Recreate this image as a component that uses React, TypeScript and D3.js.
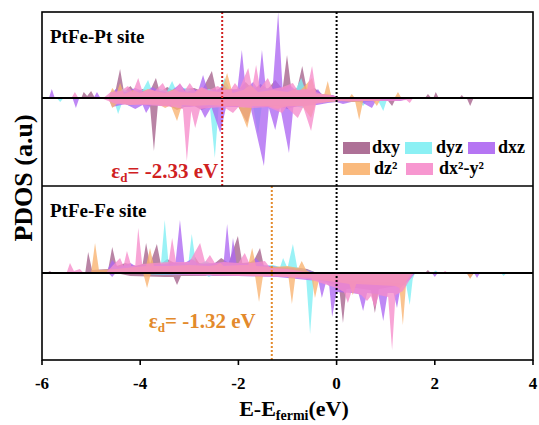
import * as d3 from 'd3'

type Pt = [number, number]

// orbital names & colours
const orbitals = ['dxy', 'dyz', 'dxz', 'dz²', 'dx²-y²']
const orbitalColors = ['#a5628c', '#7eeef3', '#ad66f2', '#f9b26f', '#f68ccb']
const energyTicks = [-6, -4, -2, 0, 2, 4]

const siteLabels = ['PtFe-Pt site', 'PtFe-Fe site']
const dBandCenters = [-2.33, -1.32]
const dBandColors = ['#d0211f', '#e38a2c']

// PtFe - Pt site, spin up
const ptUpDxy: Pt[] = [[-5.9,0],[-5.2,0],[-5.15,0.6],[-5.08,0.2],[-5.0,0.7],[-4.92,0],[-4.65,0],[-4.5,0.8],[-4.41,2.9],[-4.33,0.6],[-4.2,1.2],[-4.1,0.6],[-3.95,0.9],[-3.8,0.7],[-3.68,2.0],[-3.6,0.6],[-3.45,1.1],[-3.3,0.7],[-3.1,0.9],[-2.9,1.0],[-2.75,0.7],[-2.54,2.7],[-2.45,0.7],[-2.3,1.3],[-2.2,0.9],[-2.0,0.8],[-1.85,1.6],[-1.7,0.8],[-1.55,1.4],[-1.4,0.9],[-1.25,1.8],[-1.1,0.9],[-1.01,4.3],[-0.92,0.8],[-0.8,1.0],[-0.7,3.2],[-0.6,0.7],[-0.45,1.0],[-0.3,0.4],[-0.1,0.3],[0.1,0],[1.8,0],[1.86,0.4],[1.93,0],[1.97,0],[2.02,0.6],[2.08,0],[2.5,0],[2.55,0.3],[2.6,0],[4,0]]
const ptUpDyz: Pt[] = [[-5.9,0],[-4.65,0],[-4.57,0.8],[-4.5,0.5],[-4.35,0.9],[-4.2,0.6],[-3.95,0.8],[-3.84,1.8],[-3.75,0.6],[-3.6,0.9],[-3.45,0.7],[-3.35,1.7],[-3.25,0.6],[-3.1,1.0],[-2.95,0.8],[-2.75,0.6],[-2.6,0.9],[-2.4,0.6],[-2.28,2.0],[-2.15,0.6],[-2.0,1.0],[-1.9,0.8],[-1.72,1.4],[-1.6,0.6],[-1.45,1.0],[-1.3,0.8],[-1.1,0.7],[-0.95,1.0],[-0.85,0.7],[-0.72,2.0],[-0.62,0.5],[-0.4,0.5],[-0.2,0.3],[0,0],[4,0]]
const ptUpDxz: Pt[] = [[-5.9,0],[-5.86,0],[-5.8,0.9],[-5.74,0],[-4.95,0],[-4.88,0.6],[-4.81,0],[-4.65,0],[-4.5,0.9],[-4.3,0.6],[-4.1,1.0],[-3.9,0.6],[-3.75,1.1],[-3.6,0.7],[-3.4,0.6],[-3.19,1.4],[-3.05,0.6],[-2.9,0.9],[-2.82,0.7],[-2.72,2.3],[-2.62,0.7],[-2.4,0.9],[-2.3,1.3],[-2.2,0.8],[-2.02,0.9],[-1.93,4.8],[-1.85,0.9],[-1.7,1.6],[-1.6,0.9],[-1.52,4.8],[-1.44,0.9],[-1.3,1.2],[-1.19,8.6],[-1.1,0.9],[-0.95,1.3],[-0.82,0.7],[-0.6,0.9],[-0.45,0.5],[-0.38,0.9],[-0.3,0.3],[-0.1,0.3],[0.1,0],[4,0]]
const ptUpDz2: Pt[] = [[-5.9,0],[-4.65,0],[-4.57,1.0],[-4.48,0.5],[-4.41,1.5],[-4.33,0.4],[-4.15,0.8],[-4.0,0.5],[-3.85,0.9],[-3.7,0.7],[-3.5,0.5],[-3.3,0.9],[-3.2,0.6],[-2.9,0.5],[-2.75,1.0],[-2.6,0.7],[-2.35,0.6],[-2.23,2.5],[-2.12,0.5],[-1.9,0.8],[-1.75,1.3],[-1.6,0.6],[-1.3,0.8],[-1.0,0.6],[-0.85,0.9],[-0.75,0.7],[-0.5,2.0],[-0.42,0.4],[-0.25,0.4],[-0.18,1.7],[-0.1,0],[0.25,0],[0.31,0.4],[0.37,0],[1.18,0],[1.25,0.6],[1.32,0],[4,0]]
const ptUpDx2: Pt[] = [[-5.9,0],[-5.4,0],[-5.33,0.6],[-5.26,0],[-4.75,0],[-4.6,0.6],[-4.4,0.7],[-4.25,1.2],[-4.15,0.6],[-4.04,2.0],[-3.95,0.6],[-3.8,0.9],[-3.7,0.7],[-3.54,1.5],[-3.44,0.6],[-3.3,0.8],[-3.19,1.5],[-3.1,0.7],[-2.99,1.5],[-2.88,0.7],[-2.75,1.1],[-2.6,0.8],[-2.42,1.2],[-2.3,0.8],[-2.15,0.9],[-2.07,1.5],[-1.98,0.9],[-1.8,3.0],[-1.72,1.0],[-1.64,3.3],[-1.56,1.0],[-1.4,2.0],[-1.3,0.9],[-1.1,1.1],[-0.89,1.5],[-0.8,0.8],[-0.6,0.9],[-0.5,3.2],[-0.42,0.6],[-0.3,0.4],[-0.1,0.3],[0.1,0],[4,0]]

// PtFe - Pt site, spin down
const ptDnDxy: Pt[] = [[-5.9,0],[-4.4,0],[-4.2,-0.6],[-3.9,-0.7],[-3.8,-0.8],[-3.72,-5.3],[-3.64,-0.7],[-3.4,-0.8],[-3.25,-1.2],[-3.1,-0.9],[-2.9,-0.8],[-2.75,-1.2],[-2.6,-0.9],[-2.3,-0.8],[-2.0,-0.9],[-1.82,-2.5],[-1.72,-0.8],[-1.4,-0.9],[-1.2,-0.8],[-1.0,-1.1],[-0.8,-0.8],[-0.6,-0.6],[-0.3,-0.4],[0,-0.3],[0.5,-0.4],[0.8,-0.3],[1.05,-0.3],[1.13,-0.8],[1.2,-0.1],[1.5,0],[2.65,0],[2.72,-0.8],[2.79,0],[4,0]]
const ptDnDyz: Pt[] = [[-5.9,0],[-5.7,0],[-5.63,-0.4],[-5.56,0],[-4.55,0],[-4.45,-1.6],[-4.37,-0.5],[-4.2,-0.8],[-4.0,-0.6],[-3.7,-0.7],[-3.4,-0.6],[-3.25,-1.0],[-3.1,-0.8],[-2.8,-0.7],[-2.58,-0.9],[-2.48,-6.0],[-2.4,-0.8],[-2.1,-0.7],[-1.9,-1.0],[-1.7,-0.8],[-1.6,-3.7],[-1.52,-0.7],[-1.2,-0.7],[-0.9,-0.7],[-0.7,-1.0],[-0.5,-0.5],[-0.2,-0.3],[0.2,-0.3],[0.45,-0.3],[0.54,-0.8],[0.62,-0.3],[0.85,-0.3],[0.95,-1.3],[1.03,-0.1],[1.2,0],[4,0]]
const ptDnDxz: Pt[] = [[-5.9,0],[-5.38,0],[-5.31,-1.0],[-5.24,0],[-4.65,0],[-4.57,-0.9],[-4.3,-0.6],[-4.1,-1.1],[-3.95,-0.7],[-3.88,-1.5],[-3.78,-0.7],[-3.5,-0.8],[-3.3,-0.7],[-3.0,-0.9],[-2.8,-0.8],[-2.68,-2.0],[-2.55,-0.9],[-2.37,-3.5],[-2.25,-0.9],[-2.0,-0.9],[-1.75,-1.0],[-1.48,-6.8],[-1.38,-1.0],[-1.25,-3.2],[-1.15,-0.9],[-0.97,-5.5],[-0.88,-0.9],[-0.7,-0.8],[-0.4,-0.7],[-0.18,-0.5],[0,-0.4],[0.13,-0.6],[0.3,-0.4],[0.5,-0.4],[0.72,-1.0],[0.8,-0.3],[1.0,-0.3],[1.3,-0.3],[1.5,0],[4,0]]
const ptDnDz2: Pt[] = [[-5.9,0],[-4.65,0],[-4.57,-1.0],[-4.45,-0.5],[-4.2,-0.7],[-4.0,-0.6],[-3.6,-0.7],[-3.49,-1.0],[-3.38,-0.7],[-3.25,-2.3],[-3.15,-0.7],[-2.9,-0.8],[-2.6,-0.7],[-2.3,-0.8],[-2.0,-0.8],[-1.82,-3.0],[-1.72,-0.8],[-1.4,-0.8],[-1.2,-1.1],[-1.0,-0.8],[-0.7,-0.8],[-0.52,-2.0],[-0.42,-0.5],[0.1,-0.3],[0.38,-0.4],[0.46,-2.2],[0.54,-0.3],[0.75,-0.3],[0.82,-0.8],[0.9,-0.1],[1.2,0],[4,0]]
const ptDnDx2: Pt[] = [[-5.9,0],[-4.8,0],[-4.5,-0.6],[-4.2,-0.7],[-3.9,-0.7],[-3.6,-0.8],[-3.3,-0.9],[-3.13,-1.1],[-3.05,-6.3],[-2.96,-1.3],[-2.88,-3.0],[-2.78,-1.1],[-2.6,-1.0],[-2.3,-0.9],[-2.11,-1.5],[-2.0,-0.9],[-1.7,-1.0],[-1.4,-0.9],[-1.11,-1.5],[-1.02,-0.9],[-0.79,-2.0],[-0.68,-0.9],[-0.52,-3.3],[-0.42,-0.6],[-0.1,-0.3],[0.4,-0.3],[0.8,-0.3],[1.2,-0.3],[1.42,-0.2],[1.49,-0.5],[1.56,0],[4,0]]

// PtFe - Fe site, spin up
const feUpDxy: Pt[] = [[-5.9,0],[-5.84,0.2],[-5.78,0],[-5.12,0],[-5.06,2.1],[-4.98,0.3],[-4.65,0.4],[-4.57,2.6],[-4.48,0.7],[-4.3,1.0],[-4.1,0.7],[-3.95,0.9],[-3.88,3.0],[-3.8,0.9],[-3.66,2.9],[-3.58,0.9],[-3.45,1.4],[-3.3,1.0],[-3.0,0.9],[-2.88,1.6],[-2.8,1.0],[-2.5,0.9],[-2.35,1.5],[-2.2,1.0],[-2.01,3.7],[-1.92,1.0],[-1.7,1.1],[-1.56,2.5],[-1.48,0.7],[-1.2,0.6],[-0.9,0.6],[-0.6,0.4],[-0.4,0],[1.8,0],[1.86,0.3],[1.92,0],[4,0]]
const feUpDyz: Pt[] = [[-5.9,0],[-4.62,0],[-4.55,0.8],[-4.45,0.5],[-4.2,0.8],[-4.1,0.6],[-3.8,0.7],[-3.58,0.8],[-3.5,5.3],[-3.42,0.8],[-3.2,0.9],[-3.02,0.9],[-2.95,3.9],[-2.86,0.8],[-2.65,1.2],[-2.5,0.7],[-2.2,0.8],[-1.9,0.7],[-1.6,0.7],[-1.3,0.8],[-1.15,0.6],[-1.09,1.5],[-1.0,0.5],[-0.89,2.9],[-0.8,0.5],[-0.6,0.3],[-0.4,0],[1.95,0],[2.02,0.25],[2.08,0],[4,0]]
const feUpDxz: Pt[] = [[-5.9,0],[-4.7,0],[-4.57,1.3],[-4.45,0.6],[-4.2,1.0],[-4.1,0.7],[-3.8,0.8],[-3.5,0.9],[-3.28,1.1],[-3.19,5.3],[-3.1,1.0],[-2.95,1.4],[-2.8,0.9],[-2.5,1.0],[-2.3,1.1],[-2.23,4.9],[-2.16,1.3],[-2.11,3.5],[-2.04,1.0],[-1.8,0.9],[-1.65,1.5],[-1.5,0.8],[-1.2,0.6],[-0.9,0.5],[-0.6,0.3],[-0.4,0],[4,0]]
const feUpDz2: Pt[] = [[-5.9,0],[-5.0,0],[-4.92,3.0],[-4.84,0.3],[-4.5,0.4],[-4.1,0.6],[-3.88,0.7],[-3.8,2.5],[-3.72,0.7],[-3.4,0.7],[-3.0,0.8],[-2.6,0.7],[-2.45,0.8],[-2.37,1.0],[-2.3,0.7],[-1.95,0.8],[-1.8,0.8],[-1.72,2.5],[-1.64,0.7],[-1.3,0.6],[-1.0,0.7],[-0.78,0.5],[-0.71,1.2],[-0.62,0.3],[-0.5,0],[4,0]]
const feUpDx2: Pt[] = [[-5.9,0],[-5.5,0],[-5.43,1.0],[-5.35,0.2],[-5.23,0.4],[-5.15,0],[-4.7,0],[-4.55,0.8],[-4.41,1.5],[-4.34,0.7],[-4.27,2.2],[-4.18,0.7],[-4.1,0.8],[-4.04,4.5],[-3.96,0.9],[-3.7,1.0],[-3.42,1.1],[-3.35,3.5],[-3.27,1.1],[-3.0,1.1],[-2.78,3.0],[-2.68,1.1],[-2.58,1.8],[-2.48,1.0],[-2.3,1.1],[-2.0,1.0],[-1.87,2.0],[-1.78,1.0],[-1.6,1.1],[-1.46,1.2],[-1.35,0.5],[-1.0,0.4],[-0.5,0],[2.15,0],[2.21,0.2],[2.27,0],[4,0]]

// PtFe - Fe site, spin down
const feDnDxy: Pt[] = [[-5.9,0],[-4.5,0],[-4.2,-0.3],[-3.5,-0.4],[-3.32,-0.4],[-3.25,-1.2],[-3.17,-0.3],[-2.8,-0.3],[-2.3,-0.3],[-1.8,-0.3],[-1.2,-0.3],[-0.6,-0.4],[-0.2,-0.9],[0.05,-1.4],[0.13,-5.0],[0.2,-1.6],[0.4,-1.5],[0.7,-1.7],[0.78,-4.0],[0.86,-1.6],[1.1,-1.4],[1.3,-1.2],[1.5,-0.4],[1.6,0],[2.65,0],[2.72,-0.5],[2.8,0],[4,0]]
const feDnDyz: Pt[] = [[-5.9,0],[-4.5,0],[-3.5,-0.2],[-2.67,-0.2],[-2.6,-0.4],[-2.52,-0.2],[-1.5,-0.2],[-0.8,-0.3],[-0.62,-0.5],[-0.54,-6.1],[-0.46,-0.7],[-0.2,-0.6],[0.2,-0.8],[0.6,-0.9],[1.0,-0.9],[1.3,-1.1],[1.42,-1.3],[1.49,-3.2],[1.55,-0.6],[1.6,0],[3.35,0],[3.4,-0.3],[3.46,0],[4,0]]
const feDnDxz: Pt[] = [[-5.9,0],[-4.65,0],[-4.57,-0.4],[-4.5,0],[-3.0,-0.2],[-2.0,-0.3],[-1.2,-0.4],[-0.6,-0.7],[-0.37,-0.8],[-0.3,-2.5],[-0.22,-1.0],[-0.15,-1.3],[-0.09,-4.4],[0,-1.9],[0.3,-2.0],[0.45,-2.1],[0.54,-3.8],[0.62,-2.0],[0.85,-2.1],[0.95,-4.8],[1.04,-2.0],[1.16,-2.0],[1.23,-3.5],[1.3,-1.5],[1.5,-0.6],[1.6,0],[1.94,0],[2.0,-0.4],[2.06,0],[2.8,0],[2.86,-0.5],[2.92,0],[4,0]]
const feDnDz2: Pt[] = [[-5.9,0],[-3.94,0],[-3.86,-1.5],[-3.78,0],[-2.0,-0.2],[-1.66,-0.3],[-1.58,-2.9],[-1.5,-0.3],[-1.2,-0.3],[-0.98,-0.4],[-0.91,-3.1],[-0.84,-0.4],[-0.51,-0.5],[-0.44,-2.5],[-0.36,-0.7],[0,-0.9],[0.26,-1.1],[0.33,-2.2],[0.4,-1.1],[0.8,-1.2],[1.2,-1.3],[1.28,-1.5],[1.35,-5.2],[1.42,-0.8],[1.55,0],[2.65,0],[2.72,-0.6],[2.79,0],[4,0]]
const feDnDx2: Pt[] = [[-5.9,0],[-4.0,0],[-3.0,-0.2],[-2.0,-0.3],[-1.0,-0.4],[-0.5,-0.7],[0,-1.5],[0.15,-1.9],[0.23,-3.0],[0.3,-1.9],[0.5,-2.2],[0.62,-2.8],[0.7,-2.3],[0.78,-3.5],[0.86,-2.2],[1.05,-2.4],[1.13,-7.7],[1.2,-2.2],[1.35,-1.8],[1.5,-0.6],[1.58,0],[4,0]]

const panelSeries: Pt[][][] = [
  [ptUpDxy, ptUpDyz, ptUpDxz, ptUpDz2, ptUpDx2, ptDnDxy, ptDnDyz, ptDnDxz, ptDnDz2, ptDnDx2],
  [feUpDxy, feUpDyz, feUpDxz, feUpDz2, feUpDx2, feDnDxy, feDnDyz, feDnDxz, feDnDz2, feDnDx2],
]

const W = 539
const H = 425
const left = 42
const right = 533
const top = 12
const mid = 186
const bottom = 360
const font = 'Liberation Serif'

export default function App() {
  const x = d3.scaleLinear().domain([-6, 4]).range([left, right])
  const yScales = [
    d3.scaleLinear().domain([-8.8, 8.6]).range([mid, top]),
    d3.scaleLinear().domain([-8.7, 8.7]).range([bottom, mid]),
  ]
  // where the eps_d labels end, just left of each marker
  const epsLabelEnd = [x(dBandCenters[0]) - 4, x(dBandCenters[1]) - 16]

  return (
    <svg width={W} height={H} style={{ position: 'absolute', left: 0, top: 0, background: '#fff' }}>
      <defs>
        {yScales.map((y, i) => (
          <clipPath id={`clip${i}`} key={i}>
            <rect x={left} y={y.range()[1]} width={right - left} height={y.range()[0] - y.range()[1]} />
          </clipPath>
        ))}
      </defs>

      {yScales.map((y, p) => {
        const area = d3.area<Pt>()
          .x(d => x(d[0]))
          .y0(y(0))
          .y1(d => y(d[1]))
        return (
          <g key={p} clipPath={`url(#clip${p})`}>
            {panelSeries[p].map((s, i) => (
              <path key={i} d={area(s) || ''} fill={orbitalColors[i % 5]} fillOpacity={0.78} stroke="none" />
            ))}
            <line x1={left} x2={right} y1={y(0)} y2={y(0)} stroke="#000" strokeWidth={1.8} />
          </g>
        )
      })}

      {/* d-band centre markers */}
      {dBandCenters.map((e, i) => (
        <line key={i} x1={x(e)} x2={x(e)} y1={yScales[i].range()[1]} y2={yScales[i].range()[0]}
          stroke={dBandColors[i]} strokeWidth={2} strokeDasharray="2,2" />
      ))}
      <line x1={x(0)} x2={x(0)} y1={top} y2={bottom} stroke="#000" strokeWidth={2} strokeDasharray="2,2" />

      {/* frame */}
      <rect x={left} y={top} width={right - left} height={bottom - top} fill="none" stroke="#000" strokeWidth={1.6} />
      <line x1={left} x2={right} y1={mid} y2={mid} stroke="#000" strokeWidth={1.6} />

      {/* x axis */}
      {energyTicks.map(t => (
        <g key={t}>
          <line x1={x(t)} x2={x(t)} y1={bottom} y2={bottom + 5} stroke="#000" strokeWidth={1.6} />
          <text x={x(t)} y={389} textAnchor="middle" fontSize={17} fontFamily={font} fontWeight="bold">{t}</text>
        </g>
      ))}
      <text x={294} y={416} textAnchor="middle" fontSize={22} fontFamily={font} fontWeight="bold">
        E-E<tspan fontSize={14} dy={4}>fermi</tspan><tspan dy={-4}>(eV)</tspan>
      </text>

      <text transform={`translate(32,178) rotate(-90)`} textAnchor="middle" fontSize={26}
        fontFamily={font} fontWeight="bold">PDOS (a.u)</text>

      {/* panel labels */}
      {siteLabels.map((s, i) => (
        <text key={s} x={50} y={yScales[i].range()[1] + 31} fontSize={19} fontFamily={font} fontWeight="bold">{s}</text>
      ))}
      {dBandCenters.map((e, i) => (
        <text key={e} x={epsLabelEnd[i]} y={i === 0 ? 178 : 328} textAnchor="end" fontSize={21}
          fontFamily={font} fontWeight="bold" fill={dBandColors[i]}>
          ε<tspan fontSize={13} dy={4}>d</tspan><tspan dy={-4}>= {e.toFixed(2)} eV</tspan>
        </text>
      ))}

      {/* legend */}
      {orbitals.map((o, i) => {
        const row = i < 3 ? 0 : 1
        const sx = [343, 405, 468, 343, 406][i]
        const tx = [372, 436, 498, 374, 439][i]
        const sy = row === 0 ? 142 : 163
        return (
          <g key={o}>
            <rect x={sx} y={sy} width={27} height={12} fill={orbitalColors[i]} fillOpacity={0.9} />
            <text x={tx} y={sy + 11} fontSize={18} fontFamily={font} fontWeight="bold">{o}</text>
          </g>
        )
      })}
    </svg>
  )
}
